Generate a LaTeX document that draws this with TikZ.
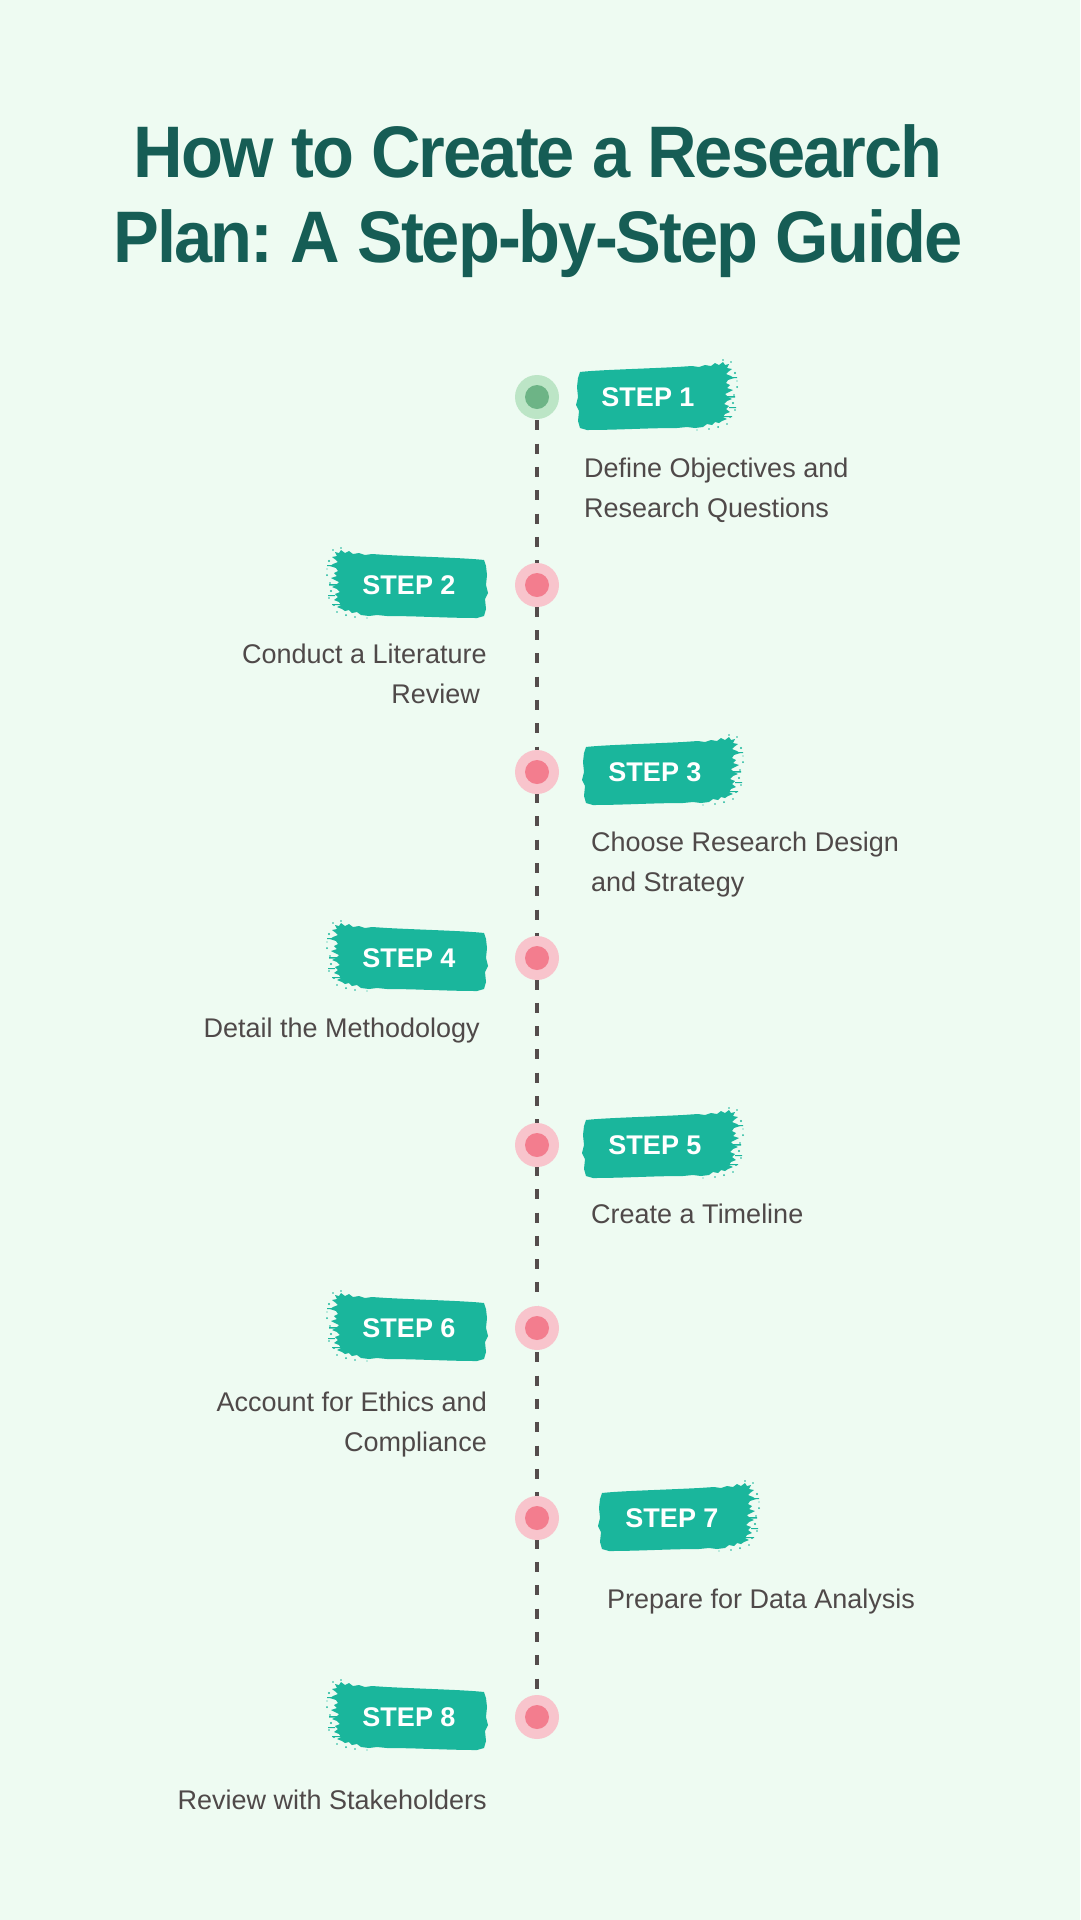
\documentclass[tikz,border=0pt]{standalone}
\usepackage{fontspec}
\setmainfont{Liberation Sans}
\newfontfamily\titlefont[FakeStretch=0.94,LetterSpace=-2.7]{Liberation Sans}
\usetikzlibrary{backgrounds}
\frenchspacing
\definecolor{bgc}{HTML}{EEFBF2}
\definecolor{titlec}{HTML}{165D55}
\definecolor{tealc}{HTML}{1AB69C}
\definecolor{pinkout}{HTML}{F8C4CC}
\definecolor{pinkin}{HTML}{F37D8E}
\definecolor{greenout}{HTML}{BCE5C6}
\definecolor{greenin}{HTML}{6DB486}
\definecolor{textc}{HTML}{4F4949}
\definecolor{dashc}{HTML}{544C4C}
\newcommand\brushpath{%
  \fill[tealc] (3,-25) .. controls (20,-27) and (60,-28) .. (100,-30)
   -- (115,-31) -- (122,-30) -- (128,-32) -- (134,-31) -- (138,-34) -- (142,-32)
   -- (146,-35) -- (148,-32) -- (152,-33) -- (150,-29) -- (155,-28) -- (151,-25)
   -- (149,-23) -- (154,-21) -- (157,-19) -- (151,-17) -- (149,-14) -- (153,-12)
   -- (150,-9) -- (156,-7) -- (152,-5) -- (148,-3) -- (151,0) -- (155,2)
   -- (150,4) -- (147,7) -- (152,9) -- (149,12) -- (153,15) -- (148,17)
   -- (146,20) -- (150,22) -- (145,24) -- (142,26) -- (138,25) -- (135,28)
   -- (130,27) -- (126,30) -- (118,31) -- (110,30) -- (100,31)
   .. controls (70,31) and (40,33) .. (10,33)
   -- (3,31) -- (1,24) -- (2,14) -- (-1,8) -- (1,0) -- (0,-10) -- (1,-19) -- cycle;
  \fill[tealc] (158,-24) circle (1.2pt) (160,-10) circle (1pt) (157,-2) circle (0.8pt)
   (156,6) circle (1.1pt) (158,13) circle (0.9pt) (153,20) circle (1pt)
   (150,27) circle (0.8pt) (141,30) circle (1pt) (132,32) circle (0.9pt)
   (154,-35) circle (0.9pt) (160,-16) circle (0.7pt) (146,-37) circle (0.8pt)
   (120,33) circle (0.7pt);
  \fill[tealc] (150,-1) rectangle (158,0.6) (152,10) rectangle (159,11.2)
   (151,-20) rectangle (160,-19) (146,19) rectangle (155,20.2);
}
\tikzset{
  dotpink/.style={circle, minimum size=44pt, inner sep=0pt, fill=pinkout},
  dotgreen/.style={circle, minimum size=44pt, inner sep=0pt, fill=greenout},
  steptext/.style={inner sep=0pt, text=white, font=\fontsize{27pt}{32pt}\selectfont\bfseries},
  desc/.style={inner sep=0pt, text=textc, font=\fontsize{27pt}{40pt}\selectfont},
  dashline/.style={draw=dashc, line width=4.5pt, dash pattern=on 10pt off 13.3pt},
  titlestyle/.style={inner sep=0pt, text=titlec, font=\titlefont\fontsize{73pt}{85pt}\selectfont\bfseries}
}
\begin{document}
\begin{tikzpicture}[x=1pt,y=-1pt]
\useasboundingbox (0,0) rectangle (1080,1920);
% title
\node[titlestyle, anchor=base] (title) at (538,177)
  {\begin{tabular}[t]{@{}c@{}}How to Create a Research\\Plan: A Step-by-Step Guide\end{tabular}};
% timeline dots
\node[dotgreen] (c1) at (537,397) {};
\node[dotpink] (c2) at (537,585) {};
\node[dotpink] (c3) at (537,772) {};
\node[dotpink] (c4) at (537,958) {};
\node[dotpink] (c5) at (537,1145) {};
\node[dotpink] (c6) at (537,1328) {};
\node[dotpink] (c7) at (537,1518) {};
\node[dotpink] (c8) at (537,1717) {};
\fill[greenin] (c1) circle (12pt);
\foreach \i in {2,...,8} { \fill[pinkin] (c\i) circle (12pt); }
\begin{pgfonlayer}{background}
  \fill[bgc] (0,0) rectangle (1080,1920);
  \draw[dashline] (c1.center) -- (c8.center);
\end{pgfonlayer}
% brushes: right side
\begin{scope}[shift={(577,397)}] \brushpath \end{scope}
\begin{scope}[shift={(583,772)}] \brushpath \end{scope}
\begin{scope}[shift={(583,1145)}] \brushpath \end{scope}
\begin{scope}[shift={(599,1518)}] \brushpath \end{scope}
% brushes: left side (mirrored)
\begin{scope}[shift={(487,585)}, xscale=-1] \brushpath \end{scope}
\begin{scope}[shift={(487,958)}, xscale=-1] \brushpath \end{scope}
\begin{scope}[shift={(487,1328)}, xscale=-1] \brushpath \end{scope}
\begin{scope}[shift={(487,1717)}, xscale=-1] \brushpath \end{scope}
% step labels
\node[steptext] (s1) at (648,397) {STEP 1};
\node[steptext] (s2) at (409,585) {STEP 2};
\node[steptext] (s3) at (655,772) {STEP 3};
\node[steptext] (s4) at (409,958) {STEP 4};
\node[steptext] (s5) at (655,1145) {STEP 5};
\node[steptext] (s6) at (409,1328) {STEP 6};
\node[steptext] (s7) at (672,1518) {STEP 7};
\node[steptext] (s8) at (409,1717) {STEP 8};
% descriptions
\node[desc, anchor=base west] (d1) at (584,477)
  {\begin{tabular}[t]{@{}l@{}}Define Objectives and\\Research Questions\end{tabular}};
\node[desc, anchor=base east] (d2) at (487,663)
  {\begin{tabular}[t]{@{}r@{}}Conduct a Literature\\Review\kern7pt\end{tabular}};
\node[desc, anchor=base west] (d3) at (591,851)
  {\begin{tabular}[t]{@{}l@{}}Choose Research Design\\and Strategy\end{tabular}};
\node[desc, anchor=base east] (d4) at (487,1037) {Detail the Methodology\kern7pt};
\node[desc, anchor=base west] (d5) at (591,1223) {Create a Timeline};
\node[desc, anchor=base east] (d6) at (487,1411)
  {\begin{tabular}[t]{@{}r@{}}Account for Ethics and\\Compliance\end{tabular}};
\node[desc, anchor=base west] (d7) at (607,1608) {Prepare for Data Analysis};
\node[desc, anchor=base east] (d8) at (487,1809) {Review with Stakeholders};
\end{tikzpicture}
\end{document}
